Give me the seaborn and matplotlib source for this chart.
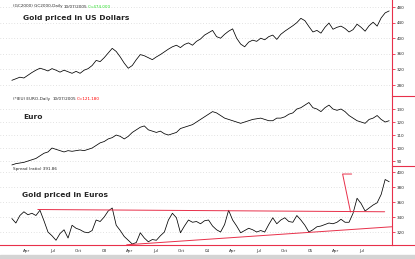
import pandas as pd
import seaborn as sns
import matplotlib.pyplot as plt
import matplotlib.dates as mdates
from matplotlib.lines import Line2D
from matplotlib.patches import Rectangle

# values, roughly two weeks apart (Feb 2002 - Oct 2005)
gold_usd = [292, 296, 300, 298, 305, 312, 318, 323, 320, 316, 322, 318, 313, 318, 314, 310,
            315, 310, 318, 322, 330, 343, 340, 350, 362, 374, 366, 352, 336, 323, 330, 345,
            358, 355, 350, 345, 352, 358, 365, 372, 378, 382, 376, 384, 388, 382, 392, 398,
            408, 414, 420, 404, 400, 410, 418, 424, 400, 385, 378, 390, 395, 392, 400, 396,
            404, 408, 397, 410, 418, 425, 432, 440, 451, 445, 430, 416, 420, 413, 428, 439,
            423, 428, 431, 425, 416, 422, 436, 428, 418, 432, 441, 431, 452, 465, 470]
euro = [87, 88, 88.5, 89, 90, 91, 92, 94, 96, 97, 100, 99, 98, 97, 98, 97.5,
        98, 98.5, 98, 99, 100, 102, 104, 105, 107, 108, 110, 109, 107, 109, 112, 114,
        116, 117, 114, 113, 112, 113, 111, 110, 111, 112, 115, 116, 117, 118, 120, 122,
        124, 126, 128, 127, 125, 123, 122, 121, 120, 119, 120, 121, 122, 122.5, 123, 122,
        121, 121, 123, 123, 124, 126, 127, 130, 131, 133, 135, 131, 130, 128, 131, 133,
        130, 129, 130, 128, 125, 123, 121, 120, 119, 122, 123, 125, 122, 120, 121]
gold_eur = [338, 332, 342, 347, 343, 345, 342, 349, 335, 320, 315, 309, 318, 323, 312, 329,
            325, 323, 320, 319, 322, 336, 334, 340, 348, 352, 329, 322, 314, 309, 304, 306,
            319, 312, 307, 310, 309, 315, 320, 336, 345, 339, 319, 328, 336, 333, 334, 331,
            335, 336, 328, 323, 320, 330, 349, 336, 328, 319, 322, 325, 323, 320, 322, 320,
            330, 339, 331, 336, 339, 334, 333, 342, 336, 329, 320, 323, 327, 328, 330, 332,
            331, 333, 337, 333, 333, 345, 365, 358, 348, 352, 356, 359, 370, 390, 387]
dates = pd.date_range("2002-02-08", "2005-10-07", periods=len(gold_usd))

df = pd.DataFrame({"date": dates, "gold_usd": gold_usd, "euro": euro, "gold_eur": gold_eur})

# red lines drawn on the gold-in-euros panel
resist_x = pd.to_datetime(["2002-05-11", "2005-09-21"])
resist_y = [350, 347]
support_x = pd.to_datetime(["2003-03-22", "2005-10-16"])
support_y = [303, 327]
flag_x = pd.to_datetime(["2005-05-27", "2005-04-25", "2005-05-23"])
flag_y = [397.3, 397.3, 346.7]

month_ticks = pd.date_range("2002-04-01", "2005-07-01", freq="QS")

W, H = 415, 259
fig = plt.figure(figsize=(W / 100, H / 100), dpi=100)
sns.set_style("white")

def px_axes(top, bottom):
    return fig.add_axes([0, (H - bottom) / H, 392 / W, (bottom - top) / H])

ax1 = px_axes(0, 96)
ax2 = px_axes(96, 166)
ax3 = px_axes(166, 245)

panels = [
    (ax1, "gold_usd", (251.8, 498), [280, 320, 360, 400, 440, 480]),
    (ax2, "euro", (86.2, 140), [90, 100, 110, 120, 130]),
    (ax3, "gold_eur", (302.7, 408), [320, 340, 360, 380, 400]),
]
red = "#e8304a"
for ax, col, lim, ticks in panels:
    sns.lineplot(data=df, x="date", y=col, ax=ax, color="black", linewidth=0.55)
    ax.set_xlim(pd.Timestamp("2001-12-28"), pd.Timestamp("2005-10-17"))
    ax.set_ylim(*lim)
    ax.set_yticks(ticks)
    ax.yaxis.tick_right()
    ax.tick_params(axis="y", which="major", length=2, width=0.6, color=red,
                   labelsize=3, pad=1.5, direction="out")
    ax.set_ylabel("")
    ax.set_xlabel("")
    ax.grid(axis="y", color="#c8c8c8", linestyle=(0, (1, 3)), linewidth=0.5)
    ax.set_xticks(month_ticks)
    for s in ["left", "top", "bottom"]:
        ax.spines[s].set_visible(False)
    ax.spines["right"].set_color(red)
    ax.spines["right"].set_linewidth(0.8)
    ax.patch.set_alpha(0)

for ax in (ax1, ax2):
    ax.tick_params(axis="x", bottom=False, labelbottom=False)

ax3.spines["bottom"].set_visible(True)
ax3.spines["bottom"].set_color(red)
ax3.spines["bottom"].set_linewidth(0.8)
ax3.set_xticklabels([d.strftime("%y") if d.month == 1 else d.strftime("%b") for d in month_ticks])
ax3.xaxis.set_minor_locator(mdates.WeekdayLocator(byweekday=0, interval=2))
ax3.tick_params(axis="x", which="both", length=1.5, width=0.5, color=red,
                labelsize=3, pad=1.5, direction="out")

ax3.plot(resist_x, resist_y, color=red, linewidth=0.7)
ax3.plot(support_x, support_y, color=red, linewidth=0.7, clip_on=False)
ax3.plot(flag_x, flag_y, color=red, linewidth=0.7)

# separators to the right of the price scale
for y in (96, 166, 245):
    fig.add_artist(Line2D([392 / W, 1], [(H - y) / H] * 2, color=red, linewidth=0.8))
fig.add_artist(Rectangle((0, 0), 1, 4 / H, color="#d4d4d4", transform=fig.transFigure))


def ftext(x, y, s, **kw):
    fig.text(x / W, (H - y) / H, s, va="center", ha="left", **kw)


ftext(13, 6.5, "(GC2000) GC2000-Daily", fontsize=3)
ftext(64, 6.5, "10/07/2005", fontsize=3)
ftext(88, 6.5, "C=474.000", fontsize=3, color="#22dd22")
ftext(23, 18, "Gold priced in US Dollars", fontsize=5.4, fontweight="bold")
ftext(13, 99, "(*IEU) EURO-Daily", fontsize=3)
ftext(53, 99, "10/07/2005", fontsize=3)
ftext(77, 99, "C=121.180", fontsize=3, color="red")
ftext(23, 117, "Euro", fontsize=5.4, fontweight="bold")
ftext(13, 169, "Spread (ratio) 391.86", fontsize=3)
ftext(22, 195, "Gold priced in Euros", fontsize=5.4, fontweight="bold")

plt.savefig("out.png", dpi=100)
